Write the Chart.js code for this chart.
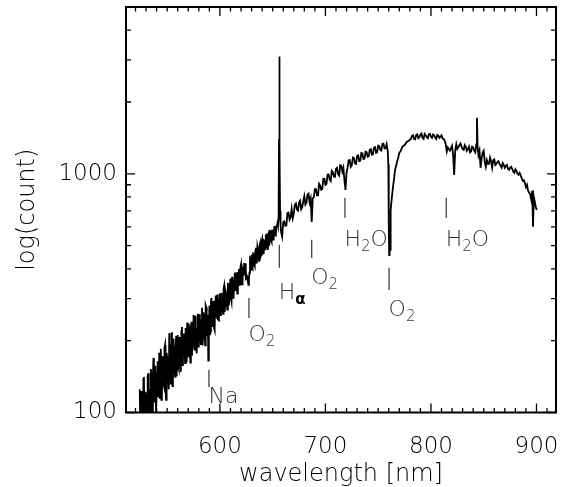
<!DOCTYPE html>
<html>
<head>
<meta charset="utf-8">
<script src="https://cdn.jsdelivr.net/npm/chart.js@4"></script>
<style>
  html, body { margin: 0; padding: 0; background: #fff; }
</style>
</head>
<body>
<canvas id="spectrumChart" width="566" height="487"></canvas>
<script>
// spectrum (nm, counts)
const wavelength = [
  524, 525, 526, 527, 528, 529, 530, 531, 532, 533,
  534, 535, 536, 537, 538, 539, 540, 541, 542, 543,
  544, 545, 546, 547, 548, 549, 550, 551, 552, 553,
  554, 555, 556, 557, 558, 559, 560, 561, 562, 563,
  564, 565, 566, 567, 568, 569, 570, 571, 572, 573,
  574, 575, 576, 577, 578, 579, 580, 581, 582, 583,
  584, 585, 586, 587, 588, 589, 590, 591, 592, 593,
  594, 595, 596, 597, 598, 599, 600, 601, 602, 603,
  604, 605, 606, 607, 608, 609, 610, 611, 612, 613,
  614, 615, 616, 617, 618, 619, 620, 621, 622, 623,
  624, 625, 626, 627, 628, 629, 630, 631, 632, 633,
  634, 635, 636, 637, 638, 639, 640, 641, 642, 643,
  644, 645, 646, 647, 648, 649, 650, 651, 652, 653,
  654, 655,
  655.6, 656.0, 656.3, 656.6, 657.0, 657.5, 658, 659, 660, 662,
  664, 666, 668, 670, 672, 674, 676, 678, 680, 682,
  684, 686, 687, 688, 690, 692, 694, 696, 698, 700,
  702, 704, 706, 708, 710, 712, 714, 716, 717, 718,
  719, 720, 722, 724, 726, 728, 730, 732, 734, 736,
  738, 740, 742, 744, 746, 748, 750, 752, 754, 756,
  758, 759,
  759.6, 760.0, 760.4, 760.8, 761.2, 761.6, 762, 763, 764, 765,
  766, 767, 768, 769, 770, 772, 774, 776, 778, 780,
  782, 784, 786, 788, 790, 792, 794, 796, 798, 800,
  802, 804, 806, 808, 810, 812, 814, 815, 816, 818,
  820, 821, 822, 823, 824, 826, 828, 830, 832, 834,
  836, 838, 840, 842, 843, 843.6, 844.2, 845, 846, 847,
  848, 850, 851, 852, 854, 856, 858, 860, 862, 864,
  866, 868, 870, 872, 874, 876, 878, 880, 882, 884,
  886, 888, 890, 891, 892, 894, 895, 896, 896.7, 897.5,
  898.5, 899.5, 900.5
];
const counts = [
  125, 80, 113, 76, 141, 92, 116, 84, 146, 107,
  95, 143, 91, 169, 112, 133, 100, 164, 130, 114,
  185, 114, 165, 129, 192, 113, 170, 143, 215, 132,
  191, 129, 204, 150, 181, 142, 211, 152, 194, 148,
  228, 171, 214, 161, 190, 238, 172, 218, 162, 240,
  194, 256, 182, 222, 177, 259, 203, 249, 192, 275,
  206, 248, 191, 276, 230, 165, 280, 218, 302, 234,
  274, 221, 309, 250, 298, 243, 316, 257, 307, 259,
  340, 281, 315, 270, 345, 302, 364, 291, 350, 308,
  385, 328, 362, 317, 399, 345, 418, 344, 402, 423,
  421, 378, 367, 343, 385, 444, 458, 404, 463, 411,
  490, 437, 480, 430, 508, 457, 531, 464, 526, 492,
  555, 484, 560, 513, 579, 520, 582, 550, 603, 552,
  606, 607,
  650, 1400, 3100, 1300, 700, 610, 570, 545, 628, 605,
  685, 643, 713, 679, 751, 701, 771, 725, 806, 757,
  825, 789, 629, 791, 863, 813, 908, 858, 952, 898,
  993, 946, 1030, 975, 1051, 998, 1087, 1022, 1060, 940,
  857, 1010, 1138, 1070, 1170, 1106, 1190, 1130, 1222, 1154,
  1236, 1179, 1262, 1203, 1288, 1224, 1313, 1259, 1334, 1277,
  1332, 1250,
  1100, 620, 457, 530, 480, 560, 705, 800, 880, 950,
  1040, 1080, 1130, 1170, 1225, 1270, 1310, 1340, 1370, 1389,
  1440, 1400, 1455, 1410, 1460, 1415, 1470, 1425, 1465, 1430,
  1462, 1420, 1455, 1415, 1448, 1400, 1330, 1240, 1290, 1250,
  1310, 1200, 990, 1250, 1330, 1290, 1340, 1270, 1320, 1250,
  1300, 1240, 1290, 1230, 1330, 1718, 1300, 1200, 1250, 1060,
  1160, 1250, 1120, 1070, 1100, 1170, 1060, 1150, 1100, 1130,
  1080, 1110, 1060, 1090, 1040, 1070, 1020, 1045, 1000, 1010,
  960, 940, 880, 900, 850, 820, 780, 850, 600, 800,
  760, 720, 707
];

// in-between samples of the same spectrum (merged and sorted below)
const wavelengthFill = [
  524.5, 525.5, 526.5, 527.5, 528.5, 529.5, 530.5, 531.5, 532.5, 533.5,
  534.5, 535.5, 536.5, 537.5, 538.5, 539.5, 540.5, 541.5, 542.5, 543.5,
  544.5, 545.5, 546.5, 547.5, 548.5, 549.5, 550.5, 551.5, 552.5, 553.5,
  554.5, 555.5, 556.5, 557.5, 558.5, 559.5,
  560.5, 561.5, 562.5, 563.5, 564.5, 565.5, 566.5, 567.5, 568.5, 569.5,
  570.5, 571.5, 572.5, 573.5, 574.5, 575.5, 576.5, 577.5, 578.5, 579.5,
  580.5, 581.5, 582.5, 583.5, 584.5, 585.5, 586.5, 587.5, 588.5, 589.5,
  590.5, 591.5, 592.5, 593.5, 594.5, 595.5, 596.5, 597.5, 598.5, 599.5,
  600.5, 601.5, 602.5, 603.5, 604.5, 605.5, 606.5, 607.5, 608.5, 609.5,
  610.5, 611.5, 612.5, 613.5, 614.5, 615.5, 616.5, 617.5, 618.5, 619.5,
  620.5, 621.5, 622.5, 623.5, 624.5, 625.5, 626.5, 627.5, 628.5, 629.5,
  630.5, 631.5, 632.5, 633.5, 634.5, 635.5, 636.5, 637.5, 638.5, 639.5,
  640.5, 641.5, 642.5, 643.5, 644.5, 645.5, 646.5, 647.5, 648.5, 649.5,
  650.5, 651.5, 652.5, 653.5, 654.5,
  661, 663, 665, 667, 669, 671, 673, 675, 677, 679, 681, 683, 685,
  689, 691, 693, 695, 697, 699, 701, 703, 705, 707, 709, 711, 713, 715,
  721, 723, 725, 727, 729, 731, 733, 735, 737, 739, 741, 743, 745, 747,
  749, 751, 753, 755, 757,
  771, 773, 775, 777, 779,
  781, 783, 785, 787, 789, 791, 793, 795, 797, 799, 801, 803, 805, 807,
  809, 811, 813,
  825, 827, 829, 831, 833, 835, 837, 839, 841, 849,
  853, 855, 857, 859, 861, 863, 865, 867, 869, 871, 873, 875, 877, 879,
  881, 883, 885, 887, 889
];
const countsFill = [
  89, 123, 99, 138, 86, 122, 102, 140, 90, 125,
  152, 102, 143, 113, 157, 100, 146, 117, 178, 131,
  113, 172, 132, 187, 127, 178, 153, 125, 197, 150,
  217, 144, 183, 141, 209, 167,
  155, 207, 169, 219, 158, 206, 183, 226, 162, 207,
  235, 179, 227, 173, 237, 192, 254, 189, 224, 189,
  258, 207, 243, 191, 263, 221, 281, 209, 256, 224,
  211, 293, 230, 293, 225, 292, 252, 312, 244, 297,
  256, 317, 272, 332, 264, 322, 290, 346, 281, 342,
  299, 370, 302, 358, 326, 387, 315, 385, 343, 408,
  345, 404, 374, 402, 372, 365, 353, 362, 446, 396,
  409, 464, 417, 473, 425, 495, 451, 495, 449, 518,
  471, 528, 478, 552, 496, 551, 499, 576, 528, 579,
  530, 599, 554, 602, 621,
  632, 609, 687, 658, 651, 743, 708, 758, 711, 769, 743, 817, 759,
  797, 863, 813, 893, 864, 953, 907, 994, 933, 1017, 972, 1061, 984, 1081,
  1064, 1143, 1086, 1166, 1101, 1195, 1135, 1217, 1159, 1231, 1183, 1269, 1208, 1294,
  1230, 1306, 1251, 1338, 1279,
  1240, 1300, 1320, 1360, 1375,
  1400, 1450, 1395, 1465, 1420, 1475, 1400, 1450, 1410, 1470, 1415, 1450, 1400, 1445,
  1430, 1405, 1380,
  1270, 1320, 1300, 1260, 1300, 1270, 1230, 1300, 1250, 1230,
  1140, 1100, 1130, 1140, 1090, 1120, 1100, 1060, 1090, 1080, 1050, 1060, 1050, 1010,
  1030, 990, 985, 935, 915
];

// axis ticks
const xLabelTicks = [600, 700, 800, 900];
const xMinorTicks = [520, 530, 540, 550, 560, 570, 580, 590, 600, 610, 620, 630, 640, 650,
  660, 670, 680, 690, 700, 710, 720, 730, 740, 750, 760, 770, 780, 790, 800, 810, 820,
  830, 840, 850, 860, 870, 880, 890, 900, 910];
const yLabelTicks = [100, 1000];
const yMinorTicks = [100, 200, 300, 400, 500, 600, 700, 800, 900, 1000, 2000, 3000, 4000];

// marked lines: wavelength, marker top/bottom and label top (in counts)
const featureLabels = ['Na', 'O_2', 'H_α', 'O_2', 'H_2O', 'O_2', 'H_2O'];
const featureWavelength = [589.6, 627.5, 656.3, 687.0, 718.5, 760.3, 814.5];
const featureTop = [151, 302, 504, 529, 793, 404, 793];
const featureBottom = [128, 249, 404, 444, 654, 326, 654];
const featureLabelTop = [128, 233, 349, 404, 582, 296, 582];

const FONT = '"DejaVu Sans", sans-serif';

function drawLabel(ctx, text, px, top) {
    let cx = px;
    const base = top + 16;
    for (let i = 0; i < text.length; i++) {
        let ch = text[i];
        let sub = false;
        if (ch === '_') { sub = true; ch = text[++i]; }
        if (sub && ch === 'α') ctx.font = 'bold 15px ' + FONT;
        else ctx.font = (sub ? '200 15px ' : '200 22px ') + FONT;
        ctx.fillStyle = (sub && ch === 'α') ? '#000' : '#333';
        ctx.fillText(ch, cx, sub ? base + 5 : base);
        cx += ctx.measureText(ch).width;
    }
}

const framePlugin = {
    id: 'frame',
    afterDatasetsDraw(chart) {
        const { ctx, chartArea: a, scales: { x, y } } = chart;
        ctx.save();
        ctx.strokeStyle = '#000';
        ctx.lineWidth = 1.3;
        ctx.beginPath();
        xMinorTicks.forEach(v => {
            const px = x.getPixelForValue(v);
            const len = xLabelTicks.includes(v) ? 9 : 4.5;
            ctx.moveTo(px, a.bottom); ctx.lineTo(px, a.bottom - len);
            ctx.moveTo(px, a.top); ctx.lineTo(px, a.top + len);
        });
        yMinorTicks.forEach(v => {
            const py = y.getPixelForValue(v);
            const len = yLabelTicks.includes(v) ? 9 : 5;
            ctx.moveTo(a.left, py); ctx.lineTo(a.left + len, py);
            ctx.moveTo(a.right, py); ctx.lineTo(a.right - len, py);
        });
        ctx.stroke();

        ctx.lineWidth = 2;
        ctx.strokeRect(a.left, a.top, a.right - a.left, a.bottom - a.top);

        // line markers
        ctx.strokeStyle = '#333';
        ctx.lineWidth = 1.2;
        ctx.textBaseline = 'alphabetic';
        ctx.textAlign = 'left';
        featureLabels.forEach((label, i) => {
            const px = x.getPixelForValue(featureWavelength[i]);
            ctx.beginPath();
            ctx.moveTo(px, y.getPixelForValue(featureTop[i]));
            ctx.lineTo(px, y.getPixelForValue(featureBottom[i]));
            ctx.stroke();
            drawLabel(ctx, label, px - 0.5, y.getPixelForValue(featureLabelTop[i]));
        });
        ctx.restore();
    }
};

const points = wavelength.map((w, i) => ({ x: w, y: counts[i] }))
    .concat(wavelengthFill.map((w, i) => ({ x: w, y: countsFill[i] })))
    .sort((p, q) => p.x - q.x);

const ctx = document.getElementById('spectrumChart').getContext('2d');

new Chart(ctx, {
    type: 'line',
    data: {
        datasets: [{
            label: 'spectrum',
            data: points,
            borderColor: '#000',
            borderWidth: 1.8,
            borderJoinStyle: 'miter',
            pointRadius: 0,
            tension: 0,
            fill: false,
            clip: 0
        }]
    },
    options: {
        responsive: false,
        devicePixelRatio: 1,
        animation: false,
        parsing: false,
        layout: { padding: { top: 7, right: 10, left: 0, bottom: 0 } },
        plugins: {
            legend: { display: false },
            tooltip: { enabled: false }
        },
        scales: {
            x: {
                type: 'linear',
                min: 511,
                max: 918.5,
                grid: { display: false, drawTicks: false },
                border: { display: false },
                afterBuildTicks: s => { s.ticks = xLabelTicks.map(v => ({ value: v })); },
                afterFit: s => { s.height = 74.5; s.paddingLeft = 0; s.paddingRight = 0; },
                ticks: {
                    color: '#000',
                    padding: 21,
                    maxRotation: 0,
                    font: { family: FONT, size: 23, weight: '200' }
                },
                title: {
                    display: true,
                    text: 'wavelength [nm]',
                    color: '#000',
                    padding: { top: 0, bottom: -2 },
                    font: { family: FONT, size: 24, weight: '200' }
                }
            },
            y: {
                type: 'logarithmic',
                min: 100,
                max: 5000,
                grid: { display: false, drawTicks: false },
                border: { display: false },
                afterBuildTicks: s => { s.ticks = yLabelTicks.map(v => ({ value: v })); },
                afterFit: s => { s.width = 126; s.paddingTop = 0; s.paddingBottom = 0; },
                ticks: {
                    color: '#000',
                    padding: 9,
                    callback: v => String(v),
                    font: { family: FONT, size: 23, weight: '200' }
                },
                title: {
                    display: true,
                    text: 'log(count)',
                    color: '#000',
                    padding: { top: 13, bottom: 0 },
                    font: { family: FONT, size: 24, weight: '200' }
                }
            }
        }
    },
    plugins: [framePlugin]
});
</script>
</body>
</html>
